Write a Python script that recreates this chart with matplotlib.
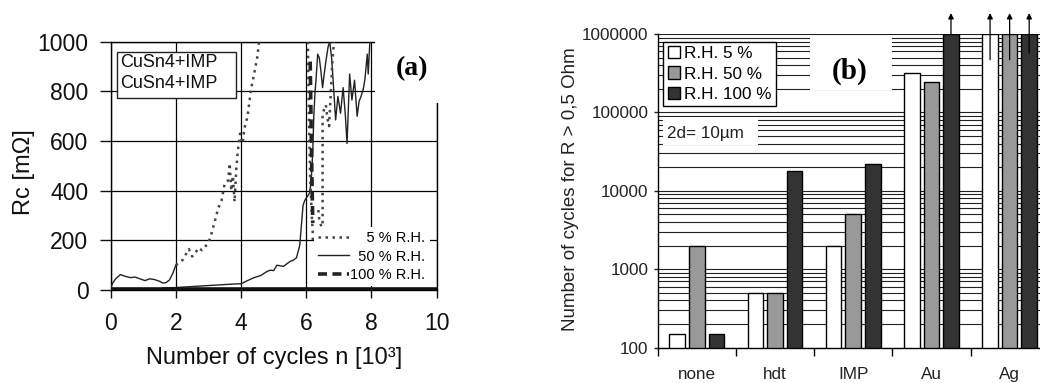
import numpy as np
import matplotlib
matplotlib.use("Agg")
import matplotlib.pyplot as plt
from matplotlib.patches import Rectangle
from matplotlib.ticker import FixedLocator, FixedFormatter, LogLocator, NullFormatter

plt.rcParams['font.family'] = ['Liberation Sans', 'DejaVu Sans']

# ---- panel (a): contact resistance vs. cycles (x in 10^3 cycles, Rc in mOhm)
rh50_a_x = [0, 0.05, 0.15, 0.3, 0.45, 0.6, 0.75, 0.9, 1.05, 1.2, 1.35, 1.5, 1.6, 1.7, 1.8, 1.9, 2.0]
rh50_a_y = [5, 25, 45, 62, 55, 50, 52, 45, 38, 45, 42, 35, 28, 30, 40, 65, 100]

rh50_b_x = [1.6, 2.0, 2.5, 3.0, 3.5, 3.9, 4.0, 4.2, 4.4, 4.6, 4.8, 4.9, 5.0, 5.1, 5.3, 5.5,
            5.6, 5.7, 5.8, 5.85, 5.9, 5.95, 6.0, 6.1, 6.15, 6.2, 6.23, 6.27, 6.3, 6.35, 6.4,
            6.45, 6.5, 6.55, 6.6, 6.67, 6.72, 6.78, 6.83, 6.9, 6.97, 7.05, 7.13, 7.2, 7.25,
            7.33, 7.4, 7.48, 7.56, 7.62, 7.68, 7.75, 7.8, 7.87, 7.9, 7.95]
rh50_b_y = [8, 10, 14, 18, 22, 25, 25, 38, 50, 58, 75, 80, 78, 100, 95, 115,
            120, 130, 180, 260, 340, 360, 370, 390, 440, 560, 700, 800, 850, 950, 935,
            880, 815, 870, 920, 980, 1000, 930, 830, 685, 780, 712, 815, 700, 590,
            870, 765, 845, 700, 760, 780, 810, 850, 950, 870, 1000]

rh5_a_x = [2.0, 2.2, 2.4, 2.5, 2.6, 2.7, 2.8, 3.0, 3.1, 3.2, 3.3, 3.4, 3.5, 3.6, 3.65,
           3.7, 3.75, 3.8, 3.85, 3.9, 3.97, 4.05, 4.1, 4.2, 4.3, 4.4, 4.5, 4.55]
rh5_a_y = [100, 120, 165, 135, 150, 170, 160, 190, 230, 280, 330, 360, 430, 440, 510,
           400, 460, 355, 480, 560, 630, 590, 650, 700, 805, 870, 940, 1000]
rh5_b_x = [6.05, 6.08, 6.12, 6.18, 6.2, 6.2]
rh5_b_y = [1000, 700, 450, 270, 230, 200]
rh5_c_x = [6.37, 6.4, 6.5, 6.5, 6.6, 6.65, 6.7, 6.75, 6.8, 6.85]
rh5_c_y = [322, 282, 240, 710, 745, 690, 660, 790, 920, 1000]

rh100_a_x = [0, 10]
rh100_a_y = [3, 3]
rh100_b_x = [6.12, 6.15, 6.18, 6.2]
rh100_b_y = [920, 650, 400, 270]

# ---- panel (b): cycles until R > 0.5 Ohm
coatings = ['none', 'hdt', 'IMP', 'Au', 'Ag']
rh_labels = ['R.H. 5 %', 'R.H. 50 %', 'R.H. 100 %']
cycles_rh5 = [150, 500, 2000, 320000, 1000000]
cycles_rh50 = [2000, 500, 5000, 245000, 1000000]
cycles_rh100 = [150, 18000, 22000, 1000000, 1000000]
# bars that are still intact at the end of the test (arrow up)
arrow_coating = ['Au', 'Ag', 'Ag', 'Ag']
arrow_series = [2, 0, 1, 2]
arrow_from = [1000000, 470000, 470000, 570000]
arrow_to = 1850000

fig = plt.figure(figsize=(10.4, 3.83), dpi=100)

# ================= panel (a)
ax1 = fig.add_axes([0.1064, 0.2428, 0.3135, 0.6483])
ax1.set_xlim(0, 10)
ax1.set_ylim(0, 1000)
ax1.set_xticks(range(0, 11, 2))
ax1.set_yticks(range(0, 1001, 200))
ax1.grid(True, color='black', lw=0.9)
ax1.set_axisbelow(True)
for s in ax1.spines.values():
    s.set_linewidth(1.0)
ax1.tick_params(axis='y', direction='out', length=8, width=1, pad=8, labelsize=16.5, colors='#111')
ax1.tick_params(axis='x', direction='out', length=6, width=1, pad=10, labelsize=16.5, colors='#111')

solid_kw = dict(color='#222222', lw=1.0, zorder=3)
dot_kw = dict(color='#444444', lw=1.8, ls=(0, (1, 1.8)), zorder=3)
thick_kw = dict(color='#222222', lw=2.6, ls=(0, (2.5, 1.5)), zorder=3)

ax1.plot(rh50_a_x, rh50_a_y, **solid_kw)
ax1.plot(rh50_b_x, rh50_b_y, label='  50 % R.H.', **solid_kw)
ax1.plot(rh5_a_x, rh5_a_y, label='    5 % R.H.', **dot_kw)
ax1.plot(rh5_b_x, rh5_b_y, **dot_kw)
ax1.plot(rh5_c_x, rh5_c_y, **dot_kw)
ax1.plot(rh100_a_x, rh100_a_y, color='#111111', lw=2.6, zorder=3)
ax1.plot(rh100_b_x, rh100_b_y, label='100 % R.H.', **thick_kw)

h, l = ax1.get_legend_handles_labels()
order = [1, 0, 2]
leg1 = ax1.legend([h[i] for i in order], [l[i] for i in order], loc='lower right',
                  bbox_to_anchor=(0.979, 0.015), borderaxespad=0, frameon=True,
                  fancybox=False, framealpha=1, edgecolor='none', fontsize=10.5,
                  handlelength=2.1, handletextpad=0.1, labelspacing=0.3, borderpad=0.3)
leg1.set_zorder(6)

ax1.set_ylabel('Rc [m\u03A9]', fontsize=17, color='#111')
ax1.yaxis.set_label_coords(-0.232, 0.475)
ax1.set_xlabel('Number of cycles n [10\u00B3]', fontsize=17, color='#111')
ax1.xaxis.set_label_coords(0.501, -0.228)

# sample box
ax1.add_patch(Rectangle((0.0193, 0.773), 0.3651, 0.1855, transform=ax1.transAxes,
                        facecolor='white', edgecolor='#222', lw=1.0, zorder=5))
ax1.text(0.0285, 0.918, 'CuSn4+IMP', transform=ax1.transAxes, fontsize=13,
         ha='left', va='center', zorder=6, color='#111')
ax1.text(0.0285, 0.83, 'CuSn4+IMP', transform=ax1.transAxes, fontsize=13,
         ha='left', va='center', zorder=6, color='#111')

# white corner behind the panel letter
ax1.add_patch(Rectangle((0.8107, 0.753), 0.4, 0.4, transform=ax1.transAxes,
                        facecolor='white', edgecolor='none', clip_on=False, zorder=7))
ax1.text(0.924, 0.893, '(a)', transform=ax1.transAxes, fontsize=20, fontweight='bold',
         family='Liberation Serif', ha='center', va='center', zorder=8)

# ================= panel (b)
ax2 = fig.add_axes([0.6324, 0.0922, 0.376, 0.819])
x = np.arange(len(coatings))
offsets = [-0.25, 0.0, 0.25]
colors = ['white', '#999999', '#333333']
series = [cycles_rh5, cycles_rh50, cycles_rh100]
for k in range(3):
    ax2.bar(x + offsets[k], series[k], width=0.2, color=colors[k], edgecolor='black',
            lw=1.0, label=rh_labels[k], log=True, zorder=2)

ax2.set_ylim(100, 1000000)
ax2.set_xlim(-0.5, 4.5)
ax2.yaxis.set_major_locator(FixedLocator([100, 1000, 10000, 100000, 1000000]))
ax2.yaxis.set_major_formatter(FixedFormatter(['100', '1000', '10000', '100000', '1000000']))
ax2.yaxis.set_minor_locator(LogLocator(base=10, subs=np.arange(2, 10)))
ax2.yaxis.set_minor_formatter(NullFormatter())
ax2.yaxis.grid(True, which='both', color='#222', lw=0.8)
ax2.set_axisbelow(True)
ax2.tick_params(axis='y', which='major', direction='out', length=3, width=1,
                labelsize=12.3, colors='#222')
ax2.tick_params(axis='y', which='minor', length=0)

ax2.xaxis.set_major_locator(FixedLocator(np.arange(-0.5, 4.6, 1.0)))
ax2.xaxis.set_major_formatter(NullFormatter())
ax2.xaxis.set_minor_locator(FixedLocator(x))
ax2.xaxis.set_minor_formatter(FixedFormatter(coatings))
ax2.tick_params(axis='x', which='major', direction='out', length=6, width=1)
ax2.tick_params(axis='x', which='minor', length=0, pad=14, labelsize=12.3, colors='#222')
ax2.spines['top'].set_visible(False)
ax2.spines['right'].set_visible(False)
ax2.spines['left'].set_linewidth(1.0)
ax2.spines['bottom'].set_linewidth(1.0)

ax2.set_ylabel('Number of cycles for R > 0,5 Ohm', fontsize=13.5, color='#222')
ax2.yaxis.set_label_coords(-0.202, 0.506)

for c, s, y0 in zip(arrow_coating, arrow_series, arrow_from):
    xa = coatings.index(c) + offsets[s]
    ax2.annotate('', xy=(xa, arrow_to), xytext=(xa, y0), xycoords='data',
                 annotation_clip=False, zorder=4,
                 arrowprops=dict(arrowstyle='-|>', color='black', lw=0.9,
                                 mutation_scale=8, shrinkA=0, shrinkB=0))

leg2 = ax2.legend(loc='upper left', bbox_to_anchor=(0.0143, 0.9755), borderaxespad=0,
                  frameon=True, fancybox=False, framealpha=1, edgecolor='black',
                  fontsize=12.3, handlelength=0.75, handleheight=0.75, handletextpad=0.2,
                  labelspacing=0.3, borderpad=0.25)
leg2.get_frame().set_linewidth(1.0)
leg2.set_zorder(6)

ax2.add_patch(Rectangle((0.0136, 0.646), 0.243, 0.0894, transform=ax2.transAxes,
                        facecolor='white', edgecolor='none', zorder=3))
ax2.text(0.024, 0.684, '2d= 10\u00B5m', transform=ax2.transAxes, fontsize=12.3,
         ha='left', va='center', zorder=4, color='#222')
ax2.add_patch(Rectangle((0.3895, 0.8215), 0.2095, 0.1685, transform=ax2.transAxes,
                        facecolor='white', edgecolor='none', zorder=3))
ax2.text(0.492, 0.88, '(b)', transform=ax2.transAxes, fontsize=21, fontweight='bold',
         family='Liberation Serif', ha='center', va='center', zorder=4)

fig.savefig('out.png', dpi=100)
